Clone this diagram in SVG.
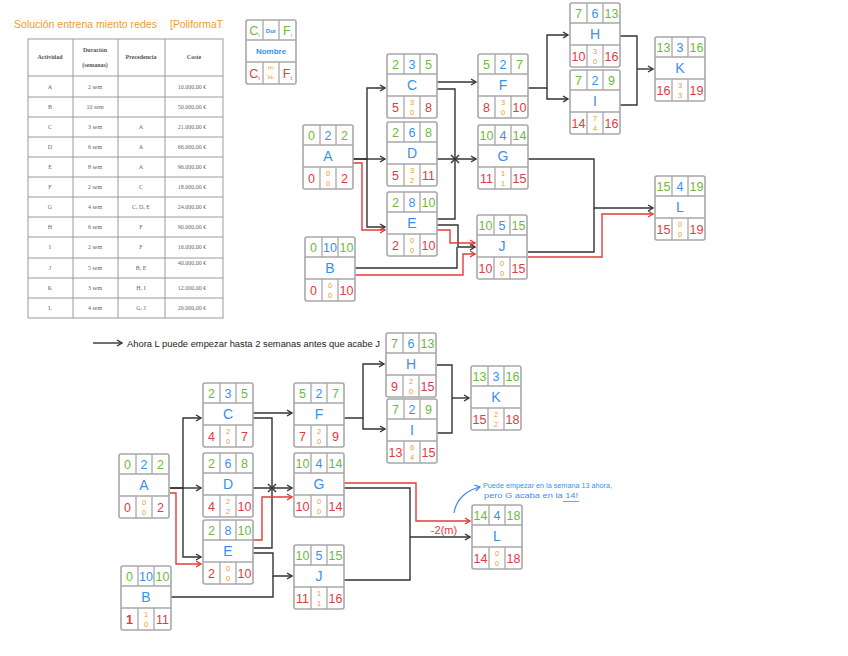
<svg xmlns="http://www.w3.org/2000/svg" width="848" height="656" viewBox="0 0 848 656">
<defs>
<style>
.bg{fill:#ffffff}
.nb{fill:#fff;stroke:#a8a8a8;stroke-width:1.6}
.nl{stroke:#a8a8a8;stroke-width:1.3;fill:none}
.t{font-family:"Liberation Sans","DejaVu Sans",sans-serif;text-anchor:middle}
.g{fill:#6cbb3c;font-size:12.5px}
.b{fill:#3b8ff0;font-size:12.5px}
.r{fill:#e23a3f;font-size:12.5px}
.o{fill:#f39b2a;font-size:7.5px}
.nm{fill:#3b8ff0;font-size:14px}
.c{fill:none;stroke:#333;stroke-width:1.4}
.cr{fill:none;stroke:#e53b3b;stroke-width:1.4}
.tb{fill:none;stroke:#9a9a9a;stroke-width:1}
.tt{font-family:"Liberation Serif","DejaVu Serif",serif;font-size:6px;fill:#666;text-anchor:middle}
.th{font-family:"Liberation Serif","DejaVu Serif",serif;font-size:6px;fill:#555;font-weight:bold;text-anchor:middle}
.hw{font-family:"Liberation Sans","DejaVu Sans",sans-serif}
</style>
<marker id="ah" markerWidth="8" markerHeight="8" refX="6" refY="4" orient="auto" markerUnits="userSpaceOnUse"><path d="M1,1 L6,4 L1,7" fill="none" stroke="#333" stroke-width="1.4"/></marker>
<marker id="ahr" markerWidth="8" markerHeight="8" refX="6" refY="4" orient="auto" markerUnits="userSpaceOnUse"><path d="M1,1 L6,4 L1,7" fill="none" stroke="#e53b3b" stroke-width="1.4"/></marker>
<marker id="ahb" markerWidth="8" markerHeight="8" refX="6" refY="4" orient="auto" markerUnits="userSpaceOnUse"><path d="M1,1 L6,4 L1,7" fill="none" stroke="#3b8ff0" stroke-width="1.2"/></marker>
<g id="frame">
<rect class="nb" x="0" y="0" width="50" height="64" rx="2"/>
<path class="nl" d="M0,20 H50 M0,42 H50 M17,0 V20 M33,0 V20 M17,42 V64 M33,42 V64"/>
</g>
</defs>
<rect class="bg" x="0" y="0" width="848" height="656"/>

<g id="title">
<text class="hw" x="14" y="28" font-size="11" fill="#f39b2a" textLength="143" lengthAdjust="spacingAndGlyphs">Solución entrena miento redes</text>
<text class="hw" x="170" y="28" font-size="11" fill="#f39b2a" textLength="53" lengthAdjust="spacingAndGlyphs">[PoliformaT</text>
</g>

<g id="table">
<rect class="tb" x="28" y="39" width="195" height="279" stroke-width="1.5"/>
<path class="tb" d="M73,39 V318 M118,39 V318 M165,39 V318 M28,76 H223 M28,97 H223 M28,117 H223 M28,137 H223 M28,157 H223 M28,177 H223 M28,197 H223 M28,217 H223 M28,237 H223 M28,258 H223 M28,278 H223 M28,298 H223"/>
<text class="th" x="50" y="59">Actividad</text>
<text class="th" x="95" y="52">Duración</text>
<text class="th" x="95" y="67">(semanas)</text>
<text class="th" x="141" y="59">Precedencia</text>
<text class="th" x="194" y="59">Coste</text>
<g class="tt">
<text x="50" y="89">A</text><text x="95" y="89">2 sem</text><text x="192" y="89">10.000,00 €</text>
<text x="50" y="109">B</text><text x="95" y="109">10 sem</text><text x="192" y="109">50.000,00 €</text>
<text x="50" y="129">C</text><text x="95" y="129">3 sem</text><text x="141" y="129">A</text><text x="192" y="129">21.000,00 €</text>
<text x="50" y="149">D</text><text x="95" y="149">6 sem</text><text x="141" y="149">A</text><text x="192" y="149">66.000,00 €</text>
<text x="50" y="169">E</text><text x="95" y="169">8 sem</text><text x="141" y="169">A</text><text x="192" y="169">96.000,00 €</text>
<text x="50" y="189">F</text><text x="95" y="189">2 sem</text><text x="141" y="189">C</text><text x="192" y="189">18.000,00 €</text>
<text x="50" y="209">G</text><text x="95" y="209">4 sem</text><text x="141" y="209">C, D, E</text><text x="192" y="209">24.000,00 €</text>
<text x="50" y="229">H</text><text x="95" y="229">6 sem</text><text x="141" y="229">F</text><text x="192" y="229">90.000,00 €</text>
<text x="50" y="249">I</text><text x="95" y="249">2 sem</text><text x="141" y="249">F</text><text x="192" y="249">16.000,00 €</text>
<text x="50" y="270">J</text><text x="95" y="270">5 sem</text><text x="141" y="270">B, E</text><text x="192" y="265">40.000,00 €</text>
<text x="50" y="290">K</text><text x="95" y="290">3 sem</text><text x="141" y="290">H, I</text><text x="192" y="290">12.000,00 €</text>
<text x="50" y="310">L</text><text x="95" y="310">4 sem</text><text x="141" y="310">G, J</text><text x="192" y="310">20.000,00 €</text>
</g>
</g>

<g id="legend" transform="translate(246,20)">
<use href="#frame"/>
<text class="t g" x="8.5" y="15" font-size="12">C<tspan font-size="6" dy="2">i</tspan></text>
<text class="t" x="25" y="13" font-size="6" fill="#3b8ff0" font-weight="bold">Dur</text>
<text class="t g" x="41.5" y="15" font-size="12">F<tspan font-size="6" dy="2">i</tspan></text>
<text class="t" x="25" y="34" font-size="8" fill="#3b8ff0" font-weight="bold">Nombre</text>
<text class="t r" x="8.5" y="58" font-size="12">C<tspan font-size="6" dy="2">t</tspan></text>
<text class="t" x="25" y="50" font-size="5" fill="#f39b2a">H<tspan font-size="4">T</tspan></text>
<text class="t" x="25" y="59" font-size="6" fill="#f39b2a">H<tspan font-size="4">L</tspan></text>
<text class="t r" x="41.5" y="58" font-size="12">F<tspan font-size="6" dy="2">t</tspan></text>
</g>

<!-- ===== TOP NETWORK ===== -->
<g id="connectors-top">
<path class="c" d="M353,159 H367 V88 H385" marker-end="url(#ah)"/>
<path class="c" d="M353,159 H385" marker-end="url(#ah)"/>
<path class="c" d="M367,159 V227 H385" marker-end="url(#ah)"/>
<path class="cr" d="M353,163 H362 V230 H385" marker-end="url(#ahr)"/>
<path class="c" d="M437,82 H476" marker-end="url(#ah)"/>
<path class="c" d="M437,89 H455 V159"/>
<path class="c" d="M437,159 H476" marker-end="url(#ah)"/>
<path class="c" d="M437,219 H455 V159"/>
<path class="c" d="M451,155 L459,163 M459,155 L451,163"/>
<path class="c" d="M437,225 H458 V247 H475" marker-end="url(#ah)"/>
<path class="c" d="M355,268 H457 V247"/>
<path class="cr" d="M437,230 H450 V243 H475" marker-end="url(#ahr)"/>
<path class="cr" d="M355,275 H463 V254 H475" marker-end="url(#ahr)"/>
<path class="c" d="M528,88 H547 V35 H568" marker-end="url(#ah)"/>
<path class="c" d="M547,88 V99 H568" marker-end="url(#ah)"/>
<path class="c" d="M620,36 H637 V105 H620"/>
<path class="c" d="M637,69 H653" marker-end="url(#ah)"/>
<path class="c" d="M528,159 H594 V208 H653" marker-end="url(#ah)"/>
<path class="c" d="M528,252 H594 V208"/>
<path class="cr" d="M528,257 H602 V214 H653" marker-end="url(#ahr)"/>
</g>

<g id="tA" transform="translate(303,125)"><use href="#frame"/>
<text class="t g" x="8.5" y="15">0</text><text class="t b" x="25" y="15">2</text><text class="t g" x="41.5" y="15">2</text>
<text class="t nm" x="25" y="36">A</text>
<text class="t r" x="8.5" y="58">0</text><text class="t o" x="25" y="51">0</text><text class="t o" x="25" y="61">0</text><text class="t r" x="41.5" y="58">2</text></g>

<g id="tB" transform="translate(305,237)"><use href="#frame"/>
<text class="t g" x="8.5" y="15">0</text><text class="t b" x="25" y="15">10</text><text class="t g" x="41.5" y="15">10</text>
<text class="t nm" x="25" y="36">B</text>
<text class="t r" x="8.5" y="58">0</text><text class="t o" x="25" y="51">0</text><text class="t o" x="25" y="61">0</text><text class="t r" x="41.5" y="58">10</text></g>

<g id="tC" transform="translate(387,54)"><use href="#frame"/>
<text class="t g" x="8.5" y="15">2</text><text class="t b" x="25" y="15">3</text><text class="t g" x="41.5" y="15">5</text>
<text class="t nm" x="25" y="36">C</text>
<text class="t r" x="8.5" y="58">5</text><text class="t o" x="25" y="51">3</text><text class="t o" x="25" y="61">0</text><text class="t r" x="41.5" y="58">8</text></g>

<g id="tD" transform="translate(387,122)"><use href="#frame"/>
<text class="t g" x="8.5" y="15">2</text><text class="t b" x="25" y="15">6</text><text class="t g" x="41.5" y="15">8</text>
<text class="t nm" x="25" y="36">D</text>
<text class="t r" x="8.5" y="58">5</text><text class="t o" x="25" y="51">3</text><text class="t o" x="25" y="61">2</text><text class="t r" x="41.5" y="58">11</text></g>

<g id="tE" transform="translate(387,192)"><use href="#frame"/>
<text class="t g" x="8.5" y="15">2</text><text class="t b" x="25" y="15">8</text><text class="t g" x="41.5" y="15">10</text>
<text class="t nm" x="25" y="36">E</text>
<text class="t r" x="8.5" y="58">2</text><text class="t o" x="25" y="51">0</text><text class="t o" x="25" y="61">0</text><text class="t r" x="41.5" y="58">10</text></g>

<g id="tF" transform="translate(478,54)"><use href="#frame"/>
<text class="t g" x="8.5" y="15">5</text><text class="t b" x="25" y="15">2</text><text class="t g" x="41.5" y="15">7</text>
<text class="t nm" x="25" y="36">F</text>
<text class="t r" x="8.5" y="58">8</text><text class="t o" x="25" y="51">3</text><text class="t o" x="25" y="61">0</text><text class="t r" x="41.5" y="58">10</text></g>

<g id="tG" transform="translate(478,125)"><use href="#frame"/>
<text class="t g" x="8.5" y="15">10</text><text class="t b" x="25" y="15">4</text><text class="t g" x="41.5" y="15">14</text>
<text class="t nm" x="25" y="36">G</text>
<text class="t r" x="8.5" y="58">11</text><text class="t o" x="25" y="51">1</text><text class="t o" x="25" y="61">1</text><text class="t r" x="41.5" y="58">15</text></g>

<g id="tJ" transform="translate(477,215)"><use href="#frame"/>
<text class="t g" x="8.5" y="15">10</text><text class="t b" x="25" y="15">5</text><text class="t g" x="41.5" y="15">15</text>
<text class="t nm" x="25" y="36">J</text>
<text class="t r" x="8.5" y="58">10</text><text class="t o" x="25" y="51">0</text><text class="t o" x="25" y="61">0</text><text class="t r" x="41.5" y="58">15</text></g>

<g id="tH" transform="translate(570,3)"><use href="#frame"/>
<text class="t g" x="8.5" y="15">7</text><text class="t b" x="25" y="15">6</text><text class="t g" x="41.5" y="15">13</text>
<text class="t nm" x="25" y="36">H</text>
<text class="t r" x="8.5" y="58">10</text><text class="t o" x="25" y="51">3</text><text class="t o" x="25" y="61">0</text><text class="t r" x="41.5" y="58">16</text></g>

<g id="tI" transform="translate(570,70)"><use href="#frame"/>
<text class="t g" x="8.5" y="15">7</text><text class="t b" x="25" y="15">2</text><text class="t g" x="41.5" y="15">9</text>
<text class="t nm" x="25" y="36">I</text>
<text class="t r" x="8.5" y="58">14</text><text class="t o" x="25" y="51">7</text><text class="t o" x="25" y="61">4</text><text class="t r" x="41.5" y="58">16</text></g>

<g id="tK" transform="translate(655,37)"><use href="#frame"/>
<text class="t g" x="8.5" y="15">13</text><text class="t b" x="25" y="15">3</text><text class="t g" x="41.5" y="15">16</text>
<text class="t nm" x="25" y="36">K</text>
<text class="t r" x="8.5" y="58">16</text><text class="t o" x="25" y="51">3</text><text class="t o" x="25" y="61">3</text><text class="t r" x="41.5" y="58">19</text></g>

<g id="tL" transform="translate(655,176)"><use href="#frame"/>
<text class="t g" x="8.5" y="15">15</text><text class="t b" x="25" y="15">4</text><text class="t g" x="41.5" y="15">19</text>
<text class="t nm" x="25" y="36">L</text>
<text class="t r" x="8.5" y="58">15</text><text class="t o" x="25" y="51">0</text><text class="t o" x="25" y="61">0</text><text class="t r" x="41.5" y="58">19</text></g>

<!-- ===== NOTE ===== -->
<g id="note">
<path class="c" d="M93,343 H122" marker-end="url(#ah)"/>
<text class="hw" x="127" y="346.5" font-size="8.5" fill="#222" textLength="253" lengthAdjust="spacingAndGlyphs">Ahora L puede empezar hasta 2 semanas antes que acabe J</text>
</g>

<!-- ===== BOTTOM NETWORK ===== -->
<g id="connectors-bottom">
<path class="c" d="M170,488 H183 V418 H201" marker-end="url(#ah)"/>
<path class="c" d="M170,488 H201" marker-end="url(#ah)"/>
<path class="c" d="M183,488 V557 H201" marker-end="url(#ah)"/>
<path class="cr" d="M170,493 H176 V564 H201" marker-end="url(#ahr)"/>
<path class="c" d="M253,413 H292" marker-end="url(#ah)"/>
<path class="c" d="M253,418 H272 V488"/>
<path class="c" d="M253,488 H292" marker-end="url(#ah)"/>
<path class="c" d="M253,548 H272 V488"/>
<path class="c" d="M268,484 L276,492 M276,484 L268,492"/>
<path class="cr" d="M253,540 H262 V497 H292" marker-end="url(#ahr)"/>
<path class="c" d="M253,553 H273 V576 H292" marker-end="url(#ah)"/>
<path class="c" d="M171,597 H273 V576"/>
<path class="c" d="M343,418 H363 V364 H384" marker-end="url(#ah)"/>
<path class="c" d="M363,418 V429 H385" marker-end="url(#ah)"/>
<path class="c" d="M437,365 H452 V433 H437"/>
<path class="c" d="M452,398 H469" marker-end="url(#ah)"/>
<path class="c" d="M344,488 H410 V580 H344"/>
<path class="c" d="M410,537 H470" marker-end="url(#ah)"/>
<path class="cr" d="M344,483 H416 V521 H470" marker-end="url(#ahr)"/>
<text class="hw" x="444" y="534" font-size="11" fill="#e23a3f" text-anchor="middle">-2(m)</text>
<path d="M454,513 C456,500 466,490 480,487" fill="none" stroke="#3b8ff0" stroke-width="1.2" marker-end="url(#ahb)"/>
</g>

<g id="annotation">
<text class="hw" x="483" y="488" font-size="7" fill="#3b8ff0" textLength="129" lengthAdjust="spacingAndGlyphs">Puede empezar en la semana 13 ahora,</text>
<text class="hw" x="484" y="498" font-size="7" fill="#3b8ff0" textLength="94" lengthAdjust="spacingAndGlyphs">pero G acaba en la 14!</text>
<path d="M563,501.5 H579" stroke="#3b8ff0" stroke-width="0.8" fill="none"/>
</g>

<g id="bA" transform="translate(119,454)"><use href="#frame"/>
<text class="t g" x="8.5" y="15">0</text><text class="t b" x="25" y="15">2</text><text class="t g" x="41.5" y="15">2</text>
<text class="t nm" x="25" y="36">A</text>
<text class="t r" x="8.5" y="58">0</text><text class="t o" x="25" y="51">0</text><text class="t o" x="25" y="61">0</text><text class="t r" x="41.5" y="58">2</text></g>

<g id="bB" transform="translate(121,566)"><use href="#frame"/>
<text class="t g" x="8.5" y="15">0</text><text class="t b" x="25" y="15">10</text><text class="t g" x="41.5" y="15">10</text>
<text class="t nm" x="25" y="36">B</text>
<text class="t r" x="8.5" y="58" font-weight="bold">1</text><text class="t o" x="25" y="51">1</text><text class="t o" x="25" y="61">0</text><text class="t r" x="41.5" y="58">11</text></g>

<g id="bC" transform="translate(203,383)"><use href="#frame"/>
<text class="t g" x="8.5" y="15">2</text><text class="t b" x="25" y="15">3</text><text class="t g" x="41.5" y="15">5</text>
<text class="t nm" x="25" y="36">C</text>
<text class="t r" x="8.5" y="58">4</text><text class="t o" x="25" y="51">2</text><text class="t o" x="25" y="61">0</text><text class="t r" x="41.5" y="58">7</text></g>

<g id="bD" transform="translate(203,453)"><use href="#frame"/>
<text class="t g" x="8.5" y="15">2</text><text class="t b" x="25" y="15">6</text><text class="t g" x="41.5" y="15">8</text>
<text class="t nm" x="25" y="36">D</text>
<text class="t r" x="8.5" y="58">4</text><text class="t o" x="25" y="51">2</text><text class="t o" x="25" y="61">2</text><text class="t r" x="41.5" y="58">10</text></g>

<g id="bE" transform="translate(203,520)"><use href="#frame"/>
<text class="t g" x="8.5" y="15">2</text><text class="t b" x="25" y="15">8</text><text class="t g" x="41.5" y="15">10</text>
<text class="t nm" x="25" y="36">E</text>
<text class="t r" x="8.5" y="58">2</text><text class="t o" x="25" y="51">0</text><text class="t o" x="25" y="61">0</text><text class="t r" x="41.5" y="58">10</text></g>

<g id="bF" transform="translate(294,383)"><use href="#frame"/>
<text class="t g" x="8.5" y="15">5</text><text class="t b" x="25" y="15">2</text><text class="t g" x="41.5" y="15">7</text>
<text class="t nm" x="25" y="36">F</text>
<text class="t r" x="8.5" y="58">7</text><text class="t o" x="25" y="51">2</text><text class="t o" x="25" y="61">0</text><text class="t r" x="41.5" y="58">9</text></g>

<g id="bG" transform="translate(294,453)"><use href="#frame"/>
<text class="t g" x="8.5" y="15">10</text><text class="t b" x="25" y="15">4</text><text class="t g" x="41.5" y="15">14</text>
<text class="t nm" x="25" y="36">G</text>
<text class="t r" x="8.5" y="58">10</text><text class="t o" x="25" y="51">0</text><text class="t o" x="25" y="61">0</text><text class="t r" x="41.5" y="58">14</text></g>

<g id="bJ" transform="translate(294,545)"><use href="#frame"/>
<text class="t g" x="8.5" y="15">10</text><text class="t b" x="25" y="15">5</text><text class="t g" x="41.5" y="15">15</text>
<text class="t nm" x="25" y="36">J</text>
<text class="t r" x="8.5" y="58">11</text><text class="t o" x="25" y="51">1</text><text class="t o" x="25" y="61">1</text><text class="t r" x="41.5" y="58">16</text></g>

<g id="bH" transform="translate(386,333)"><use href="#frame"/>
<text class="t g" x="8.5" y="15">7</text><text class="t b" x="25" y="15">6</text><text class="t g" x="41.5" y="15">13</text>
<text class="t nm" x="25" y="36">H</text>
<text class="t r" x="8.5" y="58">9</text><text class="t o" x="25" y="51">2</text><text class="t o" x="25" y="61">0</text><text class="t r" x="41.5" y="58">15</text></g>

<g id="bI" transform="translate(387,399)"><use href="#frame"/>
<text class="t g" x="8.5" y="15">7</text><text class="t b" x="25" y="15">2</text><text class="t g" x="41.5" y="15">9</text>
<text class="t nm" x="25" y="36">I</text>
<text class="t r" x="8.5" y="58">13</text><text class="t o" x="25" y="51">6</text><text class="t o" x="25" y="61">4</text><text class="t r" x="41.5" y="58">15</text></g>

<g id="bK" transform="translate(471,366)"><use href="#frame"/>
<text class="t g" x="8.5" y="15">13</text><text class="t b" x="25" y="15">3</text><text class="t g" x="41.5" y="15">16</text>
<text class="t nm" x="25" y="36">K</text>
<text class="t r" x="8.5" y="58">15</text><text class="t o" x="25" y="51">2</text><text class="t o" x="25" y="61">2</text><text class="t r" x="41.5" y="58">18</text></g>

<g id="bL" transform="translate(472,505)"><use href="#frame"/>
<text class="t g" x="8.5" y="15">14</text><text class="t b" x="25" y="15">4</text><text class="t g" x="41.5" y="15">18</text>
<text class="t nm" x="25" y="36">L</text>
<text class="t r" x="8.5" y="58">14</text><text class="t o" x="25" y="51">0</text><text class="t o" x="25" y="61">0</text><text class="t r" x="41.5" y="58">18</text></g>
</svg>
